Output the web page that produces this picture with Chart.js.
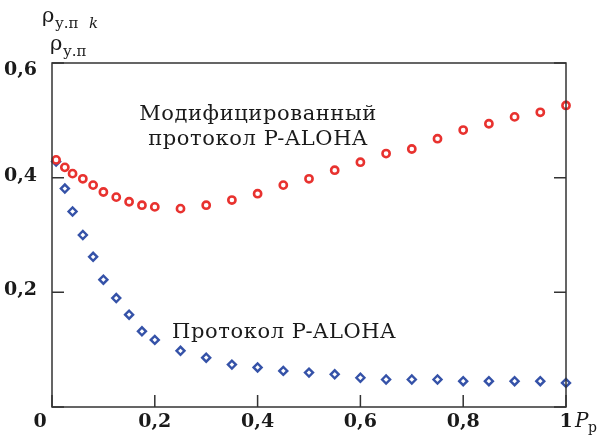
<!DOCTYPE html>
<html>
<head>
<meta charset="utf-8">
<script src="https://cdn.jsdelivr.net/npm/chart.js@4/dist/chart.umd.min.js"></script>
<style>
  html, body { margin: 0; padding: 0; background: #fff; }
  #wrap { width: 605px; height: 442px; position: relative; }
</style>
</head>
<body>
<div id="wrap"><canvas id="myChart" width="605" height="442"></canvas></div>
<script>
// data
const pValues = [0.008, 0.025, 0.04, 0.06, 0.08, 0.1, 0.125, 0.15, 0.175, 0.2, 0.25, 0.3, 0.35, 0.4, 0.45, 0.5, 0.55, 0.6, 0.65, 0.7, 0.75, 0.8, 0.85, 0.9, 0.95, 1.0];
const rhoModified = [0.431, 0.418, 0.407, 0.398, 0.387, 0.375, 0.366, 0.358, 0.352, 0.349, 0.346, 0.352, 0.361, 0.372, 0.387, 0.398, 0.413, 0.427, 0.442, 0.450, 0.468, 0.483, 0.494, 0.506, 0.514, 0.526];
const rhoAloha = [0.428, 0.381, 0.341, 0.300, 0.262, 0.222, 0.190, 0.161, 0.132, 0.117, 0.098, 0.086, 0.074, 0.069, 0.063, 0.060, 0.057, 0.051, 0.048, 0.048, 0.048, 0.045, 0.045, 0.045, 0.045, 0.042];

const xTicks = [0, 0.2, 0.4, 0.6, 0.8, 1];
const xTickLabels = ['0', '0,2', '0,4', '0,6', '0,8', '1'];
const yTicks = [0, 0.2, 0.4, 0.6];
const yTickLabels = ['0', '0,2', '0,4', '0,6'];

const serif = '"DejaVu Serif", "Liberation Serif", serif';

const framePlugin = {
  id: 'frame',
  afterDraw(chart) {
    const ctx = chart.ctx;
    const a = chart.chartArea;
    const xs = chart.scales.x, ys = chart.scales.y;
    ctx.save();
    ctx.strokeStyle = '#333';
    ctx.lineWidth = 1.5;
    ctx.strokeRect(a.left, a.top, a.right - a.left, a.bottom - a.top);

    // inward ticks
    ctx.beginPath();
    xTicks.forEach(v => {
      const px = xs.getPixelForValue(v);
      ctx.moveTo(px, a.bottom); ctx.lineTo(px, a.bottom - 12);
    });
    yTicks.forEach(v => {
      const py = ys.getPixelForValue(v);
      ctx.moveTo(a.left, py); ctx.lineTo(a.left + 12, py);
      ctx.moveTo(a.right, py); ctx.lineTo(a.right - 12, py);
    });
    ctx.stroke();

    // tick labels
    ctx.fillStyle = '#1a1a1a';
    ctx.font = 'bold 19px ' + serif;
    ctx.textBaseline = 'middle';
    ctx.textAlign = 'center';
    xTicks.forEach((v, i) => {
      if (v === 0) return;
      ctx.fillText(xTickLabels[i], xs.getPixelForValue(v), a.bottom + 15);
    });
    ctx.fillText('0', a.left - 12, a.bottom + 15);
    ctx.textAlign = 'right';
    yTicks.forEach((v, i) => {
      if (v === 0) return;
      const off = v === 0.6 ? 7 : -2;
      ctx.fillText(yTickLabels[i], a.left - 15, ys.getPixelForValue(v) + off);
    });

    // x axis title P_p
    ctx.textAlign = 'left';
    ctx.font = 'italic 20px ' + serif;
    ctx.fillText('P', a.right + 9, a.bottom + 15);
    ctx.font = '14px ' + serif;
    ctx.fillText('р', a.right + 22, a.bottom + 21);

    // y axis title
    ctx.textBaseline = 'alphabetic';
    ctx.font = '21px ' + serif;
    ctx.fillText('ρ', 42, 22);
    ctx.font = '15px ' + serif;
    ctx.fillText('у.п', 55, 28);
    ctx.font = 'italic 15px ' + serif;
    ctx.fillText('k', 89, 28);
    ctx.font = '21px ' + serif;
    ctx.fillText('ρ', 50, 50);
    ctx.font = '15px ' + serif;
    ctx.fillText('у.п', 63, 56);

    // curve captions
    ctx.font = '21px ' + serif;
    ctx.letterSpacing = '0.6px';
    ctx.textAlign = 'center';
    ctx.fillText('Модифицированный', 258, 120);
    ctx.fillText('протокол P-ALOHA', 258, 145);
    ctx.textAlign = 'left';
    ctx.fillText('Протокол P-ALOHA', 172, 338);
    ctx.restore();
  }
};

const config = {
  type: 'scatter',
  data: {
    datasets: [
      {
        label: 'Модифицированный протокол P-ALOHA',
        data: pValues.map((p, i) => ({ x: p, y: rhoModified[i] })),
        pointStyle: 'circle',
        pointRadius: 3.6,
        borderWidth: 2.6,
        borderColor: '#e8322f',
        backgroundColor: '#ffffff',
        clip: false
      },
      {
        label: 'Протокол P-ALOHA',
        data: pValues.map((p, i) => ({ x: p, y: rhoAloha[i] })),
        pointStyle: 'rectRot',
        pointRadius: 4,
        borderWidth: 2.4,
        borderColor: '#3552a8',
        backgroundColor: '#ffffff',
        clip: false
      }
    ]
  },
  options: {
    responsive: false,
    animation: false,
    layout: { padding: { left: 52, right: 39, top: 63, bottom: 35 } },
    plugins: { legend: { display: false }, tooltip: { enabled: false } },
    scales: {
      x: { type: 'linear', min: 0, max: 1, display: false },
      y: { type: 'linear', min: 0, max: 0.6, display: false }
    }
  },
  plugins: [framePlugin]
};

const myChart = new Chart(document.getElementById('myChart').getContext('2d'), config);
</script>
</body>
</html>
